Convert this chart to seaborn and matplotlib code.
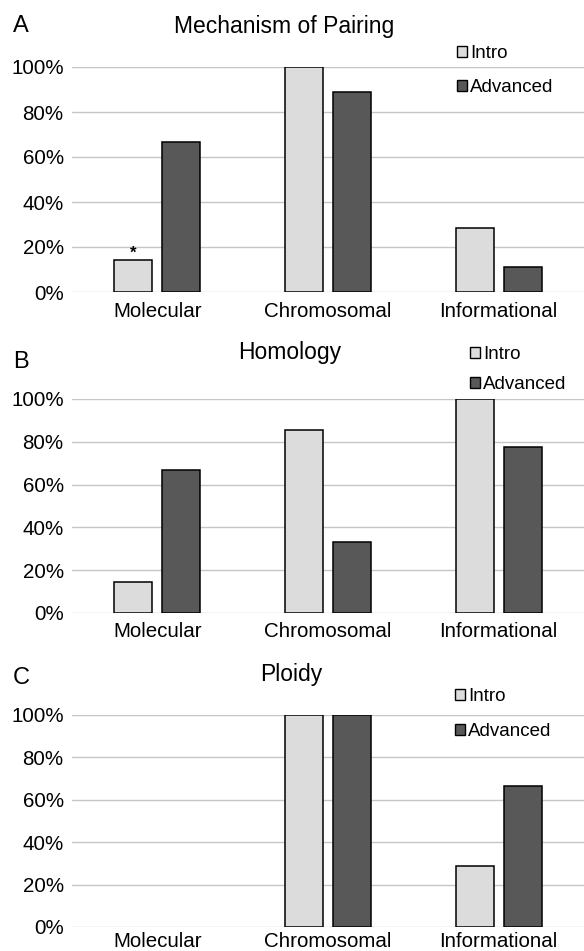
import pandas as pd
import matplotlib.pyplot as plt
import seaborn as sns
from matplotlib.patches import Patch
from matplotlib.ticker import PercentFormatter

sns.set_theme(style="white")
plt.rcParams['font.family'] = ['Liberation Sans', 'DejaVu Sans']
plt.rcParams['text.color'] = 'black'

# Data (percent of students)
categories = ['Molecular', 'Chromosomal', 'Informational']
groups = ['Intro', 'Advanced']

pairing_intro = [14.3, 100, 28.6]
pairing_adv = [66.7, 88.9, 11.1]
homology_intro = [14.3, 85.7, 100]
homology_adv = [66.7, 33.3, 77.8]
ploidy_intro = [0, 100, 28.6]
ploidy_adv = [0, 100, 66.7]

colors = ['#dcdcdc', '#585858']

W, H = 584, 951
fig = plt.figure(figsize=(W / 100, H / 100), dpi=100)

panels = [
    # letter, title, intro, adv, axes top/bottom px, title x/y, letter y,
    # legend x/y, legend spacing, x label pad
    ('A', 'Mechanism of Pairing', pairing_intro, pairing_adv, 67, 292, 284, 27, 26, 457, 45, 0.9, 7.5),
    ('B', 'Homology', homology_intro, homology_adv, 399, 613, 290, 353, 362, 470, 346, 0.7, 6.5),
    ('C', 'Ploidy', ploidy_intro, ploidy_adv, 715, 927, 291, 675, 678, 455, 688, 0.95, 3.5),
]

for letter, title, intro, adv, top, bottom, tx, ty, ly, lgx, lgy, lsp, xpad in panels:
    ax = fig.add_axes([72 / W, 1 - bottom / H, 1 - 72 / W, (bottom - top) / H])
    df = pd.DataFrame({
        'Category': categories * 2,
        'Group': ['Intro'] * 3 + ['Advanced'] * 3,
        'Value': intro + adv,
    })
    sns.barplot(data=df, x='Category', y='Value', hue='Group', hue_order=groups,
                palette=colors, width=0.565, gap=0.21, edgecolor='black',
                linewidth=1.1, errorbar=None, legend=False, ax=ax)
    # empty categories show no bar at all
    for p in ax.patches:
        if p.get_height() == 0:
            p.set_visible(False)

    ax.set_ylim(0, 100)
    ax.set_yticks(range(0, 101, 20))
    ax.yaxis.set_major_formatter(PercentFormatter(100, decimals=0))
    ax.grid(axis='y', color='#c6c6c6', linewidth=1)
    ax.set_axisbelow(True)
    sns.despine(ax=ax, left=True, bottom=True)
    ax.tick_params(axis='both', length=0, labelsize=14.8, colors='black')
    ax.tick_params(axis='y', pad=6)
    ax.tick_params(axis='x', pad=xpad)
    ax.set_xlabel('')
    ax.set_ylabel('')

    fig.text(tx / W, 1 - ty / H, title, ha='center', va='center', fontsize=16.5)
    fig.text(21 / W, 1 - ly / H, letter, ha='center', va='center', fontsize=17)

    handles = [Patch(facecolor=c, edgecolor='black', linewidth=1) for c in colors]
    fig.legend(handles, groups, loc='upper left', bbox_to_anchor=(lgx / W, 1 - lgy / H),
               frameon=False, fontsize=13.5, handlelength=0.55, handleheight=0.55,
               handletextpad=0.15, labelspacing=lsp, borderpad=0, borderaxespad=0)

    if letter == 'A':
        p = ax.patches[0]
        ax.text(p.get_x() + p.get_width() / 2, p.get_height() - 0.5, '*',
                ha='center', va='bottom', fontsize=12, fontweight='bold')

fig.savefig('out.png', dpi=100)
